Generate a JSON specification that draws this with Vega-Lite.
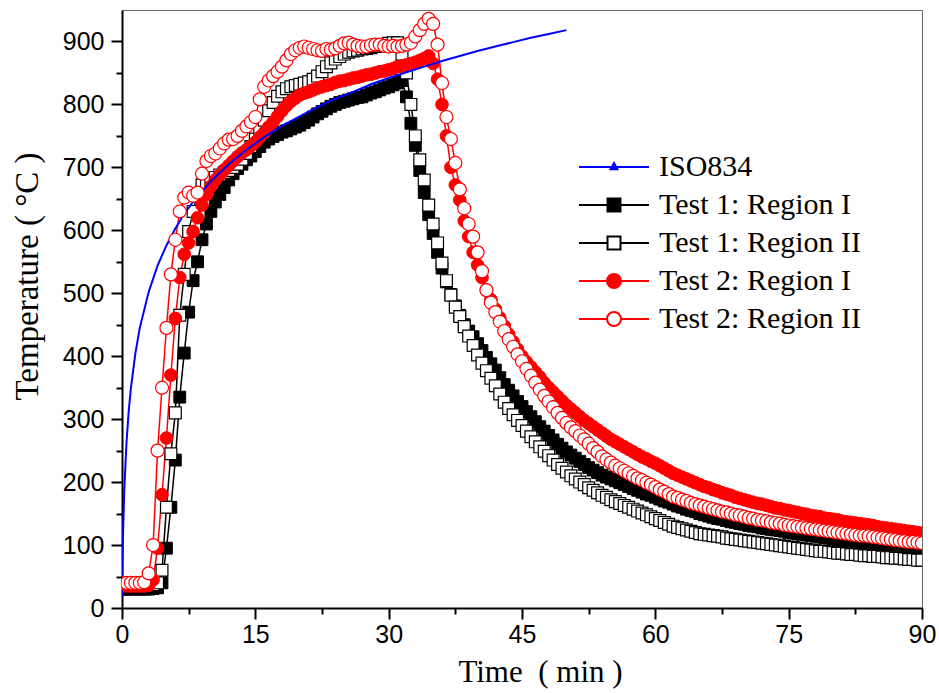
{
  "$schema": "https://vega.github.io/schema/vega-lite/v6.json",
  "width": 800,
  "height": 598,
  "autosize": "none",
  "padding": {"left": 122, "top": 10, "right": 17, "bottom": 85},
  "background": "white",
  "config": {
    "view": {"stroke": "#666666", "strokeWidth": 1},
    "axis": {"grid": false}
  },
  "datasets": {
    "tests": [
      {"t":0,"A":30,"B":37,"C":35,"D":40},
      {"t":0.5,"A":30,"B":37,"C":35,"D":40},
      {"t":1,"A":30,"B":37,"C":35,"D":40},
      {"t":1.5,"A":30,"B":37,"C":35,"D":40},
      {"t":2,"A":30,"B":37,"C":35,"D":40},
      {"t":2.5,"A":30,"B":37,"C":35,"D":41},
      {"t":3,"A":30,"B":37,"C":36,"D":55},
      {"t":3.5,"A":31,"B":37,"C":45,"D":100},
      {"t":4,"A":32,"B":40,"C":95,"D":250},
      {"t":4.5,"A":40,"B":60,"C":180,"D":350},
      {"t":5,"A":95,"B":160,"C":270,"D":445},
      {"t":5.5,"A":160,"B":245,"C":370,"D":530},
      {"t":6,"A":235,"B":310,"C":460,"D":585},
      {"t":6.5,"A":335,"B":465,"C":525,"D":630},
      {"t":7,"A":405,"B":530,"C":562,"D":652},
      {"t":7.5,"A":470,"B":598,"C":580,"D":660},
      {"t":8,"A":520,"B":630,"C":598,"D":655},
      {"t":8.5,"A":550,"B":658,"C":620,"D":660},
      {"t":9,"A":585,"B":672,"C":640,"D":690},
      {"t":9.5,"A":610,"B":676,"C":657,"D":710},
      {"t":10,"A":630,"B":680,"C":670,"D":718},
      {"t":10.5,"A":645,"B":684,"C":680,"D":722},
      {"t":11,"A":657,"B":688,"C":688,"D":730},
      {"t":11.5,"A":668,"B":692,"C":696,"D":738},
      {"t":12,"A":680,"B":695,"C":703,"D":744},
      {"t":12.5,"A":690,"B":700,"C":710,"D":745},
      {"t":13,"A":698,"B":705,"C":717,"D":750},
      {"t":13.5,"A":705,"B":713,"C":723,"D":758},
      {"t":14,"A":712,"B":722,"C":728,"D":765},
      {"t":14.5,"A":718,"B":733,"C":734,"D":772},
      {"t":15,"A":725,"B":745,"C":740,"D":780},
      {"t":15.5,"A":733,"B":760,"C":748,"D":808},
      {"t":16,"A":740,"B":775,"C":755,"D":828},
      {"t":16.5,"A":745,"B":790,"C":764,"D":838},
      {"t":17,"A":749,"B":803,"C":772,"D":845},
      {"t":17.5,"A":752,"B":813,"C":781,"D":852},
      {"t":18,"A":756,"B":820,"C":790,"D":860},
      {"t":18.5,"A":758,"B":825,"C":798,"D":870},
      {"t":19,"A":761,"B":828,"C":805,"D":880},
      {"t":19.5,"A":764,"B":830,"C":810,"D":886},
      {"t":20,"A":767,"B":832,"C":815,"D":890},
      {"t":20.5,"A":771,"B":834,"C":818,"D":892},
      {"t":21,"A":775,"B":836,"C":820,"D":890},
      {"t":21.5,"A":780,"B":840,"C":823,"D":888},
      {"t":22,"A":785,"B":845,"C":826,"D":886},
      {"t":22.5,"A":789,"B":852,"C":828,"D":885},
      {"t":23,"A":793,"B":860,"C":830,"D":888},
      {"t":23.5,"A":797,"B":866,"C":832,"D":887},
      {"t":24,"A":800,"B":872,"C":835,"D":889},
      {"t":24.5,"A":803,"B":876,"C":837,"D":893},
      {"t":25,"A":805,"B":880,"C":838,"D":897},
      {"t":25.5,"A":807,"B":883,"C":840,"D":898},
      {"t":26,"A":809,"B":885,"C":842,"D":895},
      {"t":26.5,"A":811,"B":886,"C":843,"D":893},
      {"t":27,"A":812,"B":888,"C":845,"D":892},
      {"t":27.5,"A":815,"B":889,"C":847,"D":892},
      {"t":28,"A":818,"B":890,"C":848,"D":894},
      {"t":28.5,"A":820,"B":892,"C":850,"D":895},
      {"t":29,"A":823,"B":893,"C":852,"D":895},
      {"t":29.5,"A":826,"B":895,"C":853,"D":893},
      {"t":30,"A":828,"B":897,"C":855,"D":892},
      {"t":30.5,"A":831,"B":898,"C":857,"D":893},
      {"t":31,"A":834,"B":898,"C":860,"D":892},
      {"t":31.5,"A":838,"B":880,"C":861,"D":893},
      {"t":32,"A":812,"B":850,"C":863,"D":895},
      {"t":32.5,"A":770,"B":800,"C":865,"D":898},
      {"t":33,"A":735,"B":750,"C":867,"D":908},
      {"t":33.5,"A":695,"B":712,"C":870,"D":918},
      {"t":34,"A":660,"B":680,"C":873,"D":928},
      {"t":34.5,"A":625,"B":640,"C":877,"D":936},
      {"t":35,"A":595,"B":610,"C":865,"D":928},
      {"t":35.5,"A":565,"B":580,"C":840,"D":895},
      {"t":36,"A":540,"B":548,"C":800,"D":834},
      {"t":36.5,"A":518,"B":520,"C":750,"D":780},
      {"t":37,"A":498,"B":497,"C":700,"D":745},
      {"t":37.5,"A":480,"B":478,"C":672,"D":707},
      {"t":38,"A":465,"B":463,"C":648,"D":665},
      {"t":38.5,"A":450,"B":447,"C":615,"D":635},
      {"t":39,"A":440,"B":432,"C":590,"D":610},
      {"t":39.5,"A":431,"B":417,"C":565,"D":590},
      {"t":40,"A":420,"B":402,"C":545,"D":565},
      {"t":40.5,"A":409,"B":389,"C":525,"D":535},
      {"t":41,"A":398,"B":377,"C":505,"D":505},
      {"t":41.5,"A":388,"B":365,"C":490,"D":485},
      {"t":42,"A":378,"B":353,"C":475,"D":470},
      {"t":42.5,"A":366,"B":340,"C":461,"D":455},
      {"t":43,"A":355,"B":327,"C":448,"D":440},
      {"t":43.5,"A":346,"B":317,"C":435,"D":427},
      {"t":44,"A":337,"B":307,"C":423,"D":415},
      {"t":44.5,"A":328,"B":298,"C":411,"D":403},
      {"t":45,"A":320,"B":290,"C":400,"D":392},
      {"t":45.5,"A":312,"B":281,"C":391,"D":380},
      {"t":46,"A":304,"B":272,"C":383,"D":369},
      {"t":46.5,"A":296,"B":264,"C":375,"D":358},
      {"t":47,"A":288,"B":256,"C":367,"D":347},
      {"t":47.5,"A":281,"B":249,"C":358,"D":337},
      {"t":48,"A":274,"B":242,"C":350,"D":328},
      {"t":48.5,"A":267,"B":235,"C":343,"D":319},
      {"t":49,"A":260,"B":228,"C":336,"D":310},
      {"t":49.5,"A":254,"B":222,"C":329,"D":302},
      {"t":50,"A":248,"B":216,"C":322,"D":294},
      {"t":50.5,"A":243,"B":210,"C":316,"D":287},
      {"t":51,"A":238,"B":205,"C":310,"D":281},
      {"t":51.5,"A":233,"B":200,"C":304,"D":274},
      {"t":52,"A":228,"B":196,"C":298,"D":268},
      {"t":52.5,"A":223,"B":191,"C":293,"D":261},
      {"t":53,"A":219,"B":187,"C":288,"D":254},
      {"t":53.5,"A":215,"B":183,"C":283,"D":248},
      {"t":54,"A":211,"B":179,"C":278,"D":241},
      {"t":54.5,"A":208,"B":176,"C":273,"D":236},
      {"t":55,"A":205,"B":172,"C":268,"D":231},
      {"t":55.5,"A":202,"B":169,"C":264,"D":226},
      {"t":56,"A":199,"B":166,"C":260,"D":222},
      {"t":56.5,"A":196,"B":163,"C":256,"D":218},
      {"t":57,"A":193,"B":160,"C":252,"D":214},
      {"t":57.5,"A":190,"B":157,"C":248,"D":210},
      {"t":58,"A":187,"B":154,"C":244,"D":206},
      {"t":58.5,"A":184,"B":151,"C":240,"D":203},
      {"t":59,"A":181,"B":148,"C":237,"D":199},
      {"t":59.5,"A":179,"B":145,"C":233,"D":196},
      {"t":60,"A":176,"B":142,"C":230,"D":192},
      {"t":60.5,"A":173,"B":139,"C":226,"D":188},
      {"t":61,"A":170,"B":136,"C":222,"D":185},
      {"t":61.5,"A":168,"B":133,"C":218,"D":181},
      {"t":62,"A":165,"B":130,"C":214,"D":177},
      {"t":62.5,"A":162,"B":128,"C":211,"D":175},
      {"t":63,"A":160,"B":126,"C":208,"D":172},
      {"t":63.5,"A":157,"B":124,"C":205,"D":170},
      {"t":64,"A":155,"B":122,"C":202,"D":167},
      {"t":64.5,"A":153,"B":120,"C":199,"D":165},
      {"t":65,"A":150,"B":118,"C":196,"D":163},
      {"t":65.5,"A":148,"B":117,"C":193,"D":161},
      {"t":66,"A":146,"B":116,"C":191,"D":159},
      {"t":66.5,"A":144,"B":115,"C":188,"D":157},
      {"t":67,"A":142,"B":114,"C":186,"D":155},
      {"t":67.5,"A":141,"B":113,"C":183,"D":153},
      {"t":68,"A":139,"B":111,"C":181,"D":152},
      {"t":68.5,"A":137,"B":110,"C":179,"D":150},
      {"t":69,"A":136,"B":109,"C":176,"D":148},
      {"t":69.5,"A":134,"B":108,"C":174,"D":147},
      {"t":70,"A":133,"B":107,"C":172,"D":145},
      {"t":70.5,"A":131,"B":106,"C":170,"D":143},
      {"t":71,"A":130,"B":105,"C":168,"D":142},
      {"t":71.5,"A":129,"B":104,"C":166,"D":140},
      {"t":72,"A":127,"B":103,"C":165,"D":139},
      {"t":72.5,"A":126,"B":102,"C":163,"D":138},
      {"t":73,"A":125,"B":101,"C":161,"D":136},
      {"t":73.5,"A":124,"B":100,"C":159,"D":135},
      {"t":74,"A":123,"B":99,"C":158,"D":134},
      {"t":74.5,"A":122,"B":98,"C":156,"D":132},
      {"t":75,"A":120,"B":97,"C":155,"D":131},
      {"t":75.5,"A":119,"B":96,"C":153,"D":130},
      {"t":76,"A":118,"B":95,"C":152,"D":129},
      {"t":76.5,"A":117,"B":94,"C":150,"D":128},
      {"t":77,"A":116,"B":93,"C":149,"D":127},
      {"t":77.5,"A":115,"B":92,"C":147,"D":126},
      {"t":78,"A":114,"B":91,"C":146,"D":125},
      {"t":78.5,"A":113,"B":90,"C":145,"D":124},
      {"t":79,"A":112,"B":90,"C":143,"D":123},
      {"t":79.5,"A":111,"B":89,"C":142,"D":122},
      {"t":80,"A":110,"B":88,"C":141,"D":121},
      {"t":80.5,"A":109,"B":87,"C":140,"D":120},
      {"t":81,"A":108,"B":87,"C":138,"D":119},
      {"t":81.5,"A":107,"B":86,"C":137,"D":118},
      {"t":82,"A":107,"B":85,"C":136,"D":117},
      {"t":82.5,"A":106,"B":85,"C":135,"D":116},
      {"t":83,"A":105,"B":84,"C":134,"D":115},
      {"t":83.5,"A":104,"B":83,"C":133,"D":115},
      {"t":84,"A":103,"B":83,"C":132,"D":114},
      {"t":84.5,"A":103,"B":82,"C":131,"D":113},
      {"t":85,"A":102,"B":82,"C":129,"D":112},
      {"t":85.5,"A":101,"B":81,"C":128,"D":111},
      {"t":86,"A":100,"B":80,"C":127,"D":110},
      {"t":86.5,"A":100,"B":80,"C":126,"D":109},
      {"t":87,"A":99,"B":79,"C":125,"D":108},
      {"t":87.5,"A":98,"B":79,"C":124,"D":107},
      {"t":88,"A":97,"B":78,"C":123,"D":106},
      {"t":88.5,"A":97,"B":77,"C":122,"D":105},
      {"t":89,"A":96,"B":77,"C":121,"D":105},
      {"t":89.5,"A":95,"B":76,"C":120,"D":104},
      {"t":90,"A":95,"B":76,"C":119,"D":103}
    ],
    "iso": [
      {"t":0,"T":20,"s":"ISO"},{"t":0.05,"T":70,"s":"ISO"},{"t":0.1,"T":108,"s":"ISO"},
      {"t":0.25,"T":185,"s":"ISO"},{"t":0.5,"T":261,"s":"ISO"},{"t":0.75,"T":312,"s":"ISO"},
      {"t":1,"T":349,"s":"ISO"},{"t":1.5,"T":404,"s":"ISO"},{"t":2,"T":445,"s":"ISO"},
      {"t":3,"T":502,"s":"ISO"},{"t":4,"T":544,"s":"ISO"},{"t":5,"T":576,"s":"ISO"},
      {"t":6,"T":603,"s":"ISO"},{"t":7,"T":626,"s":"ISO"},{"t":8,"T":645,"s":"ISO"},
      {"t":10,"T":678,"s":"ISO"},{"t":12,"T":705,"s":"ISO"},{"t":14,"T":728,"s":"ISO"},
      {"t":16,"T":748,"s":"ISO"},{"t":18,"T":766,"s":"ISO"},{"t":20,"T":781,"s":"ISO"},
      {"t":22,"T":796,"s":"ISO"},{"t":24,"T":809,"s":"ISO"},{"t":26,"T":820,"s":"ISO"},
      {"t":28,"T":832,"s":"ISO"},{"t":30,"T":842,"s":"ISO"},{"t":32,"T":851,"s":"ISO"},
      {"t":34,"T":860,"s":"ISO"},{"t":36,"T":869,"s":"ISO"},{"t":38,"T":877,"s":"ISO"},
      {"t":40,"T":885,"s":"ISO"},{"t":42,"T":892,"s":"ISO"},{"t":44,"T":899,"s":"ISO"},
      {"t":46,"T":906,"s":"ISO"},{"t":48,"T":912,"s":"ISO"},{"t":50,"T":918,"s":"ISO"}
    ]
  },
  "encoding": {
    "x": {
      "field": "t", "type": "quantitative",
      "scale": {"domain": [0, 90], "nice": false, "zero": false},
      "axis": {
        "title": "Time\u00a0\u00a0( min )",
        "values": [0, 7.5, 15, 22.5, 30, 37.5, 45, 52.5, 60, 67.5, 75, 82.5, 90],
        "labelExpr": "datum.value % 15 === 0 ? datum.label : ''",
        "labelOverlap": false, "labelFlush": false,
        "labelFont": "Liberation Sans", "labelFontSize": 25, "labelColor": "black", "labelPadding": 3,
        "tickSize": {"condition": {"test": "datum.value % 15 !== 0", "value": 6}, "value": 11},
        "tickWidth": 2, "tickColor": "black",
        "domainColor": "black", "domainWidth": 2,
        "titleFont": "Liberation Serif", "titleFontSize": 31, "titleFontWeight": "normal", "titleColor": "black", "titlePadding": 10,
        "titleX": 418
      }
    },
    "y": {
      "field": "T", "type": "quantitative",
      "scale": {"domain": [0, 950], "nice": false},
      "axis": {
        "title": "Temperature ( °C )",
        "values": [0, 50, 100, 150, 200, 250, 300, 350, 400, 450, 500, 550, 600, 650, 700, 750, 800, 850, 900],
        "labelExpr": "datum.value % 100 === 0 ? datum.label : ''",
        "labelOverlap": false, "labelFlush": false,
        "labelFont": "Liberation Sans", "labelFontSize": 25, "labelColor": "black", "labelPadding": 7,
        "tickSize": {"condition": {"test": "datum.value % 100 !== 0", "value": 6}, "value": 11},
        "tickWidth": 2, "tickColor": "black",
        "domainColor": "black", "domainWidth": 2,
        "titleFont": "Liberation Serif", "titleFontSize": 33, "titleFontWeight": "normal", "titleColor": "black", "titlePadding": 18,
        "titleY": 266
      }
    }
  },
  "layer": [
    {
      "data": {"name": "tests"},
      "transform": [{"fold": ["A", "B", "C", "D"], "as": ["s", "T"]}],
      "mark": {"type": "line", "strokeWidth": 1.5, "clip": true},
      "encoding": {
        "color": {
          "field": "s", "type": "nominal",
          "scale": {"domain": ["ISO", "A", "B", "C", "D"], "range": ["#0000ff", "#000000", "#000000", "#ff0000", "#ff0000"]},
          "legend": {
            "title": null,
            "orient": "none", "legendX": 476, "legendY": 141,
            "labelFont": "Liberation Serif", "labelFontSize": 30, "labelColor": "black", "labelLimit": 0,
            "labelExpr": "datum.value === 'ISO' ? 'ISO834' : datum.value === 'A' ? 'Test 1: Region I' : datum.value === 'B' ? 'Test 1: Region II' : datum.value === 'C' ? 'Test 2: Region I' : 'Test 2: Region II'",
            "labelOffset": 29,
            "symbolSize": 900, "symbolStrokeWidth": 2, "rowPadding": 7,
            "encode": {
              "symbols": {
                "update": {
                  "shape": [
                    {"test": "datum.value === 'ISO'", "value": "M-2.333,0H2.333M0,-0.26L0.23,0.15H-0.23Z"},
                    {"test": "datum.value === 'A'", "value": "M-2.333,0H2.333M-0.433,-0.433H0.433V0.433H-0.433Z"},
                    {"test": "datum.value === 'B'", "value": "M-2.333,0H-0.433M0.433,0H2.333M-0.433,-0.433H0.433V0.433H-0.433Z"},
                    {"test": "datum.value === 'C'", "value": "M-2.333,0H2.333M-0.467,0A0.467,0.467,0,1,1,0.467,0A0.467,0.467,0,1,1,-0.467,0Z"},
                    {"value": "M-2.333,0H-0.467M0.467,0H2.333M-0.467,0A0.467,0.467,0,1,1,0.467,0A0.467,0.467,0,1,1,-0.467,0Z"}
                  ],
                  "fill": [
                    {"test": "datum.value === 'ISO'", "value": "#0000ff"},
                    {"test": "datum.value === 'A'", "value": "#000000"},
                    {"test": "datum.value === 'C'", "value": "#ff0000"},
                    {"value": "#ffffff"}
                  ],
                  "stroke": [
                    {"test": "datum.value === 'ISO'", "value": "#0000ff"},
                    {"test": "datum.value === 'A' || datum.value === 'B'", "value": "#000000"},
                    {"value": "#ff0000"}
                  ],
                  "size": {"value": 900},
                  "strokeWidth": {"value": 2},
                  "opacity": {"value": 1},
                  "fillOpacity": {"value": 1}
                }
              }
            }
          }
        },
        "detail": {"field": "s"}
      }
    },
    {
      "data": {"name": "tests"},
      "transform": [{"fold": ["A"], "as": ["s", "T"]}],
      "mark": {"type": "point", "shape": "square", "filled": true, "fill": "#000000", "stroke": "#000000", "strokeWidth": 1, "size": 140, "opacity": 1, "clip": true}
    },
    {
      "data": {"name": "tests"},
      "transform": [{"fold": ["B"], "as": ["s", "T"]}],
      "mark": {"type": "point", "shape": "square", "filled": true, "fill": "#ffffff", "stroke": "#000000", "strokeWidth": 1.2, "size": 140, "opacity": 1, "clip": true}
    },
    {
      "data": {"name": "tests"},
      "transform": [{"fold": ["C"], "as": ["s", "T"]}],
      "mark": {"type": "point", "shape": "circle", "filled": true, "fill": "#ff0000", "stroke": "#ff0000", "strokeWidth": 1, "size": 160, "opacity": 1, "clip": true}
    },
    {
      "data": {"name": "iso"},
      "mark": {"type": "line", "strokeWidth": 2, "clip": true},
      "encoding": {
        "color": {"field": "s", "type": "nominal"}
      }
    },
    {
      "data": {"name": "tests"},
      "transform": [{"fold": ["D"], "as": ["s", "T"]}],
      "mark": {"type": "point", "shape": "circle", "filled": true, "fill": "#ffffff", "stroke": "#ff0000", "strokeWidth": 1.2, "size": 170, "opacity": 1, "clip": true}
    }
  ]
}
